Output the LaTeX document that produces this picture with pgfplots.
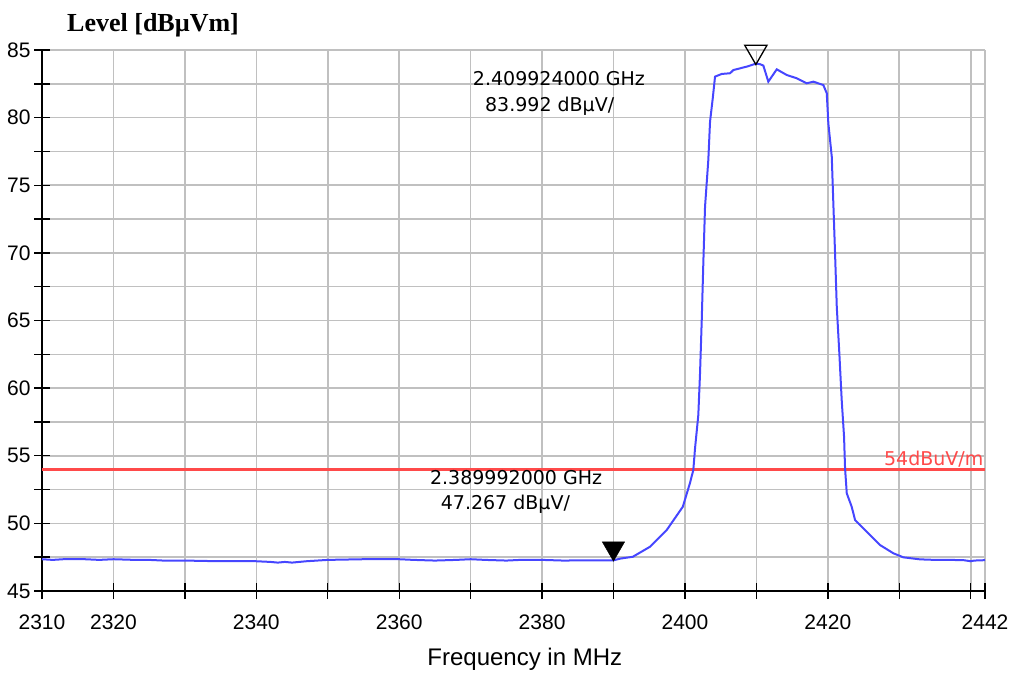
\documentclass[border=0pt]{standalone}
\usepackage{fontspec}
\setmainfont{Liberation Sans}
\newfontfamily\titlefont{Liberation Serif}
\newfontfamily\markfont{DejaVu Sans}
\usepackage{pgfplots}
\pgfplotsset{compat=1.18}

\definecolor{trace}{HTML}{4646FF}
\definecolor{limitred}{HTML}{FF4A4A}
\definecolor{gridgray}{HTML}{C0C0C0}

\begin{document}
\begin{tikzpicture}
\begin{axis}[
  scale only axis, width=943pt, height=541pt,
  xmin=2310, xmax=2442, ymin=45, ymax=85,
  axis x line*=bottom, axis y line*=left,
  axis line style={black, line width=1.6pt},
  xtick={2310,2320,2330,2340,2350,2360,2370,2380,2390,2400,2410,2420,2430,2440,2442},
  xticklabels={2310,2320,,2340,,2360,,2380,,2400,,2420,,,2442},
  ytick={45,47.5,50,52.5,55,57.5,60,62.5,65,67.5,70,72.5,75,77.5,80,82.5,85},
  yticklabels={45,,50,,55,,60,,65,,70,,75,,80,,85},
  grid=major, grid style={color=gridgray, line width=1.6pt},
  tick align=center, major tick length=16pt,
  tick style={black, line width=1.4pt},
  tick label style={font=\fontsize{21}{24}\selectfont},
  xticklabel style={yshift=-12pt},
  /pgf/number format/assume math mode=true,
  xlabel={Frequency in MHz},
  every axis x label/.style={at={(axis description cs:0.512,0)}, anchor=base,
    yshift=-74pt, font=\fontsize{24}{28}\selectfont},
  clip=false,
]
% limit line
\addplot[color=limitred, line width=3.2pt] coordinates {(2310,54) (2442,54)};

% measured trace
\addplot[color=trace, line width=2pt, sharp plot] coordinates {
  (2310,47.35) (2311.5,47.30) (2313,47.35) (2316,47.35) (2318,47.30)
  (2320,47.35) (2323,47.30) (2325,47.30) (2327,47.25) (2330,47.25)
  (2335,47.20) (2340,47.20) (2342,47.15) (2343,47.10) (2344,47.15)
  (2345,47.10) (2346,47.15) (2347,47.20) (2350,47.30) (2355,47.35)
  (2360,47.35) (2362,47.30) (2365,47.25) (2368,47.30) (2370,47.35)
  (2372,47.30) (2375,47.25) (2377,47.30) (2380,47.30) (2383,47.25)
  (2386,47.27) (2389,47.27) (2389.99,47.27)
  (2391,47.40) (2392.7,47.53) (2395.1,48.27) (2397.45,49.51) (2399.7,51.23)
  (2400.7,52.98) (2401.17,53.95) (2401.41,55.55) (2401.87,58.01) (2402.11,61.10)
  (2402.35,65.04) (2402.57,69.23) (2402.81,73.41) (2403.27,76.87) (2403.51,79.70)
  (2403.89,81.43) (2404.21,83.03) (2405.15,83.23) (2406.31,83.28) (2406.78,83.52)
  (2408.65,83.77) (2409.92,83.99) (2410.5,83.95) (2410.97,83.85) (2411.67,82.66)
  (2412.85,83.57) (2414.25,83.15) (2415.65,82.91) (2417.05,82.54) (2417.97,82.66)
  (2419.37,82.41) (2419.85,81.80) (2420.07,79.58) (2420.55,77.11) (2420.77,73.66)
  (2421.01,69.97) (2421.25,66.02) (2421.61,62.57) (2421.94,59.12) (2422.27,56.41)
  (2422.41,54.07) (2422.65,52.22) (2423.34,51.23) (2423.81,50.25) (2424.75,49.75)
  (2425.9,49.14) (2427.3,48.40) (2429.17,47.79) (2430.57,47.49) (2432.9,47.34)
  (2435,47.30) (2437,47.30) (2439,47.28) (2440,47.20) (2440.5,47.25) (2442,47.28)
};

% markers, tip on the measured point
\addplot[only marks, mark=triangle, mark size=12.9pt,
         mark options={yshift=12pt, rotate=180, draw=black, line width=1.3pt}]
  coordinates {(2409.924,83.992)};
\addplot[only marks, mark=triangle*, mark size=12.9pt,
         mark options={yshift=12pt, rotate=180, draw=black, fill=black}]
  coordinates {(2389.992,47.267)};

% marker readouts
\node[font=\markfont\fontsize{19}{22}\selectfont, anchor=base west, inner sep=0pt]
  at (axis cs:2370.3,82.41) {2.409924000 GHz};
\node[font=\markfont\fontsize{19}{22}\selectfont, anchor=base west, inner sep=0pt]
  at (axis cs:2372.0,80.44) {83.992 dBµV/};
\node[font=\markfont\fontsize{19}{22}\selectfont, anchor=base west, inner sep=0pt]
  at (axis cs:2364.3,52.84) {2.389992000 GHz};
\node[font=\markfont\fontsize{19}{22}\selectfont, anchor=base west, inner sep=0pt]
  at (axis cs:2365.8,50.99) {47.267 dBµV/};
\node[font=\markfont\fontsize{19}{22}\selectfont, anchor=base east, inner sep=0pt,
      text=limitred] at (axis cs:2441.8,54.3) {54dBuV/m};

% unit title, top left
\node[font=\titlefont\bfseries\fontsize{26}{30}\selectfont, anchor=base west, inner sep=0pt]
  at (rel axis cs:0,1) [xshift=25pt, yshift=18.3pt] {Level [dBµVm]};
\end{axis}
\path (-42pt,-80pt) rectangle (972pt,591pt);
\end{tikzpicture}
\end{document}
